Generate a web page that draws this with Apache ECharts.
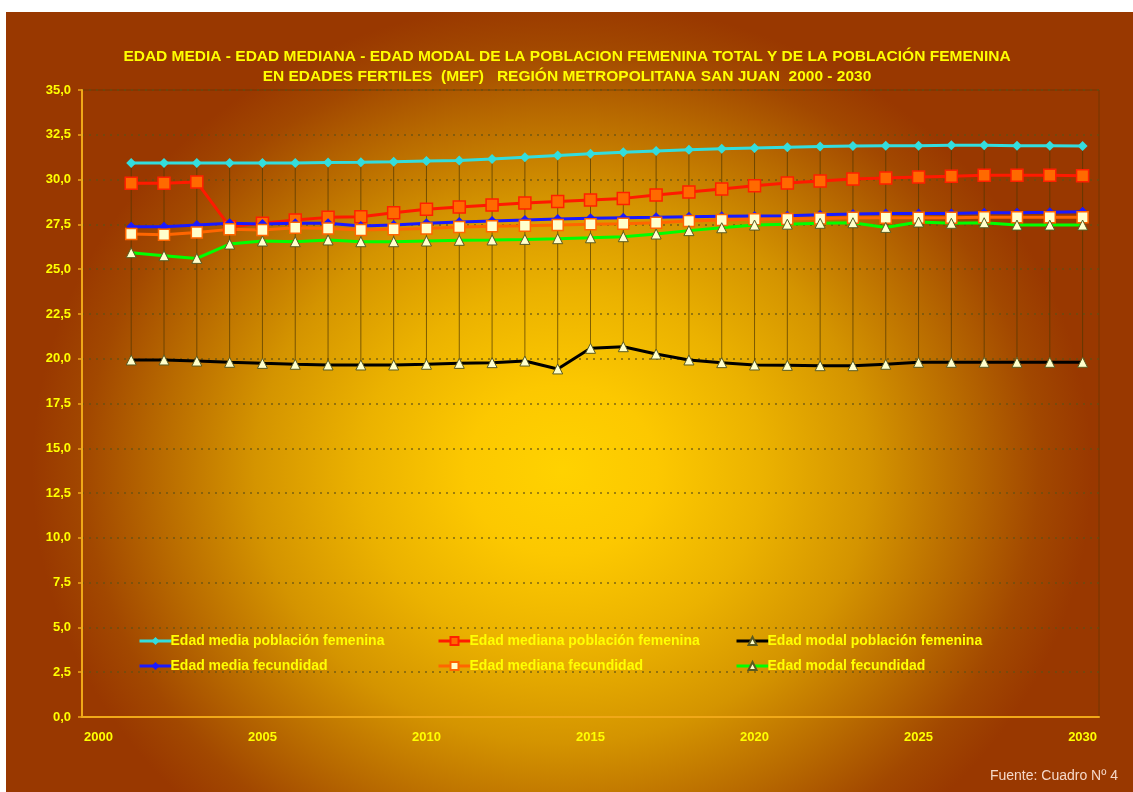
<!DOCTYPE html>
<html>
<head>
<meta charset="utf-8">
<script src="https://cdn.jsdelivr.net/npm/echarts@6/dist/echarts.min.js"></script>
<style>
  html, body { margin: 0; padding: 0; background: #ffffff; }
  #main {
    position: absolute; left: 6px; top: 12px; width: 1127px; height: 780px;
    background: radial-gradient(ellipse 530px 470px at 556px 458px,
      #ffd200 0%, #fcc800 18%, #ebb200 38%, #d49400 58%, #b86a00 76%, #a24800 90%, #993800 100%);
  }
</style>
</head>
<body>
<div id="main"></div>
<script>
// categorias (años)
var years = [];
for (var y = 2000; y <= 2030; y++) years.push(String(y));

// 2000 sin dato
var mediaPobFem = ['-', 30.92, 30.92, 30.92, 30.92, 30.92, 30.93, 30.95, 30.97, 31.0, 31.04,
  31.07, 31.15, 31.24, 31.35, 31.44, 31.52, 31.59, 31.66, 31.72, 31.76,
  31.80, 31.84, 31.87, 31.89, 31.89, 31.91, 31.91, 31.89, 31.89, 31.87];
var medianaPobFem = ['-', 29.80, 29.80, 29.86, 27.37, 27.56, 27.74, 27.89, 27.93, 28.15, 28.34,
  28.47, 28.58, 28.69, 28.77, 28.86, 28.95, 29.14, 29.31, 29.47, 29.66,
  29.81, 29.92, 30.03, 30.09, 30.14, 30.18, 30.24, 30.24, 30.24, 30.22];
var modalPobFem = ['-', 19.93, 19.93, 19.87, 19.80, 19.74, 19.69, 19.65, 19.65, 19.65, 19.69,
  19.74, 19.78, 19.87, 19.43, 20.58, 20.67, 20.26, 19.93, 19.78, 19.65,
  19.63, 19.61, 19.61, 19.69, 19.80, 19.80, 19.80, 19.80, 19.80, 19.80];
var mediaFec = ['-', 27.37, 27.37, 27.46, 27.56, 27.52, 27.56, 27.56, 27.41, 27.46, 27.56,
  27.63, 27.69, 27.74, 27.80, 27.84, 27.87, 27.89, 27.93, 27.95, 27.97,
  27.98, 28.04, 28.08, 28.11, 28.11, 28.11, 28.15, 28.15, 28.17, 28.21];
var medianaFec = ['-', 26.96, 26.92, 27.05, 27.22, 27.19, 27.31, 27.27, 27.19, 27.22, 27.27,
  27.35, 27.39, 27.42, 27.46, 27.50, 27.54, 27.59, 27.69, 27.74, 27.78,
  27.80, 27.83, 27.87, 27.87, 27.87, 27.87, 27.89, 27.89, 27.89, 27.89];
var modalFec = ['-', 25.92, 25.75, 25.60, 26.40, 26.57, 26.53, 26.63, 26.53, 26.53, 26.57,
  26.61, 26.63, 26.66, 26.70, 26.75, 26.81, 26.96, 27.15, 27.31, 27.46,
  27.51, 27.56, 27.59, 27.33, 27.63, 27.56, 27.59, 27.46, 27.46, 27.46];

var names = [
  'Edad media población femenina',
  'Edad mediana población femenina',
  'Edad modal población femenina',
  'Edad media fecundidad',
  'Edad mediana fecundidad',
  'Edad modal fecundidad'
];

// lineas max-min (high-low lines) por año
var allSeries = [mediaPobFem, medianaPobFem, modalPobFem, mediaFec, medianaFec, modalFec];
var hiLow = [];
years.forEach(function (yr, i) {
  var vals = allSeries.map(function (s) { return s[i]; }).filter(function (v) { return v !== '-'; });
  if (vals.length) hiLow.push([i, Math.max.apply(null, vals), Math.min.apply(null, vals)]);
});

var yellow = '#ffff00';
var font = 'Liberation Sans, Arial, sans-serif';
var creamTri = { color: '#ffffcc', borderColor: '#5a5a20', borderWidth: 1 };

function lineSerie(name, data, color, symbol, size, itemStyle) {
  return {
    name: name,
    type: 'line',
    data: data,
    symbol: symbol,
    symbolSize: size,
    showAllSymbol: true,
    lineStyle: { color: color, width: 3 },
    itemStyle: itemStyle || { color: color },
    z: 3
  };
}

var chart = echarts.init(document.getElementById('main'));
chart.setOption({
  animation: false,
  textStyle: { fontFamily: font },
  grid: {
    left: 76, top: 78, right: 34, bottom: 75,
    show: true, backgroundColor: 'transparent',
    borderColor: 'rgba(90,50,0,0.6)', borderWidth: 1
  },
  legend: [
    { data: [names[0], names[3]], left: 127 },
    { data: [names[1], names[4]], left: 426 },
    { data: [names[2], names[5]], left: 724 }
  ].map(function (l) {
    return {
      data: l.data, left: l.left, top: 617, orient: 'vertical',
      itemWidth: 32, itemHeight: 10, itemGap: 11,
      lineStyle: { width: 3 },
      textStyle: { color: yellow, fontSize: 14, fontWeight: 'bold', padding: [0, 0, 0, -6] }
    };
  }),
  xAxis: {
    type: 'category',
    data: years,
    boundaryGap: true,
    axisLine: { lineStyle: { color: '#f0a818', width: 2 } },
    axisTick: { interval: 0, length: 4, lineStyle: { color: '#f0a818', width: 1.5 } },
    axisLabel: { interval: 4, color: yellow, fontWeight: 'bold', fontSize: 13, margin: 14 },
    splitLine: { show: false }
  },
  yAxis: {
    type: 'value',
    min: 0, max: 35, interval: 2.5,
    axisLine: { show: true, lineStyle: { color: '#f0a818', width: 2 } },
    axisTick: { show: true, length: 4, lineStyle: { color: '#f0a818', width: 1.5 } },
    axisLabel: {
      color: yellow, fontWeight: 'bold', fontSize: 13, margin: 11,
      formatter: function (v) { return v.toFixed(1).replace('.', ','); }
    },
    splitLine: { lineStyle: { color: 'rgba(95,80,20,0.8)', type: [2, 5], width: 1.5 } }
  },
  series: [
    {
      type: 'custom',
      silent: true,
      z: 1,
      data: hiLow,
      renderItem: function (params, api) {
        var p1 = api.coord([api.value(0), api.value(1)]);
        var p2 = api.coord([api.value(0), api.value(2)]);
        return {
          type: 'line',
          shape: { x1: p1[0], y1: p1[1], x2: p2[0], y2: p2[1] },
          style: { stroke: 'rgba(80,55,0,0.7)', lineWidth: 1 }
        };
      }
    },
    lineSerie(names[0], mediaPobFem, '#33dddd', 'diamond', 10),
    lineSerie(names[1], medianaPobFem, '#ff1a00', 'rect', 12,
      { color: '#ff6a00', borderColor: '#ff2000', borderWidth: 1.5 }),
    lineSerie(names[2], modalPobFem, '#000000', 'triangle', 10, creamTri),
    lineSerie(names[3], mediaFec, '#1a1aff', 'diamond', 10),
    lineSerie(names[4], medianaFec, '#ff6600', 'rect', 11,
      { color: '#ffffcc', borderColor: '#ff6600', borderWidth: 1.5 }),
    lineSerie(names[5], modalFec, '#00ff00', 'triangle', 10, creamTri)
  ],
  graphic: [{
    type: 'text',
    x: 561,
    y: 35,
    style: {
      text: 'EDAD MEDIA - EDAD MEDIANA - EDAD MODAL DE LA POBLACION FEMENINA TOTAL Y DE LA POBLACIÓN FEMENINA\nEN EDADES FERTILES  (MEF)   REGIÓN METROPOLITANA SAN JUAN  2000 - 2030',
      align: 'center',
      fill: yellow,
      font: 'bold 15.5px ' + font,
      lineHeight: 20
    }
  }, {
    type: 'text',
    right: 15,
    top: 757,
    style: { text: 'Fuente: Cuadro Nº 4', fill: '#f5d8c8', font: '14px ' + font }
  }]
});
</script>
</body>
</html>
